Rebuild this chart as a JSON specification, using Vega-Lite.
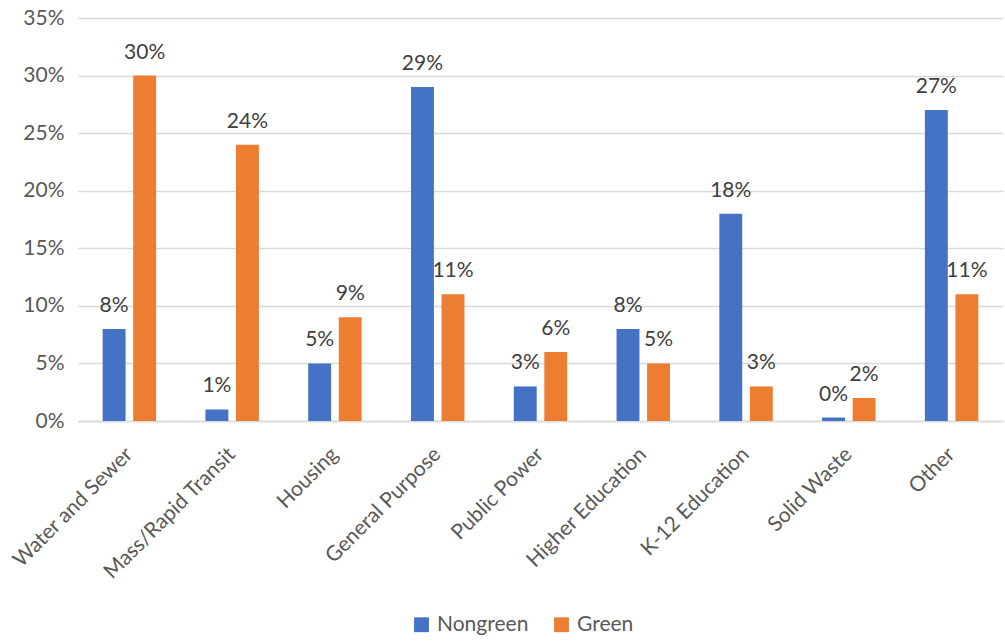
{
  "$schema": "https://vega.github.io/schema/vega-lite/v6.json",
  "autosize": {"type": "none"},
  "width": 925,
  "height": 403,
  "padding": {"left": 78, "top": 18, "right": 2, "bottom": 223},
  "background": "white",
  "config": {
    "view": {"stroke": null},
    "font": "Lato",
    "axis": {"labelFont": "Lato", "labelColor": "#595959", "labelFontSize": 21},
    "legend": {"labelFont": "Lato", "labelColor": "#595959", "labelFontSize": 21}
  },
  "data": {
    "values": [
      {"category": "Water and Sewer", "series": "Nongreen", "value": 0.08},
      {"category": "Water and Sewer", "series": "Green", "value": 0.30},
      {"category": "Mass/Rapid Transit", "series": "Nongreen", "value": 0.01},
      {"category": "Mass/Rapid Transit", "series": "Green", "value": 0.24},
      {"category": "Housing", "series": "Nongreen", "value": 0.05},
      {"category": "Housing", "series": "Green", "value": 0.09},
      {"category": "General Purpose", "series": "Nongreen", "value": 0.29},
      {"category": "General Purpose", "series": "Green", "value": 0.11},
      {"category": "Public Power", "series": "Nongreen", "value": 0.03},
      {"category": "Public Power", "series": "Green", "value": 0.06},
      {"category": "Higher Education", "series": "Nongreen", "value": 0.08},
      {"category": "Higher Education", "series": "Green", "value": 0.05},
      {"category": "K-12 Education", "series": "Nongreen", "value": 0.18},
      {"category": "K-12 Education", "series": "Green", "value": 0.03},
      {"category": "Solid Waste", "series": "Nongreen", "value": 0.003},
      {"category": "Solid Waste", "series": "Green", "value": 0.02},
      {"category": "Other", "series": "Nongreen", "value": 0.27},
      {"category": "Other", "series": "Green", "value": 0.11}
    ]
  },
  "encoding": {
    "x": {
      "field": "category", "type": "nominal", "sort": null,
      "scale": {"paddingInner": 0.48, "paddingOuter": 0.24},
      "axis": {
        "title": null, "labelAngle": -45, "labelAlign": "right", "labelBaseline": "middle",
        "ticks": false, "domainColor": "#d9d9d9", "domainWidth": 1.5, "labelPadding": 30, "grid": false
      }
    },
    "xOffset": {"field": "series", "type": "nominal", "sort": ["Nongreen", "Green"], "scale": {"paddingInner": 0.25, "paddingOuter": 0}},
    "y": {
      "field": "value", "type": "quantitative",
      "scale": {"domain": [0, 0.35], "nice": false},
      "axis": {
        "title": null, "format": ".0%", "values": [0, 0.05, 0.1, 0.15, 0.2, 0.25, 0.3, 0.35],
        "domain": false, "ticks": false, "gridColor": "#d9d9d9", "gridWidth": 1.5, "labelPadding": 14
      }
    }
  },
  "layer": [
    {
      "mark": {"type": "bar"},
      "encoding": {
        "color": {
          "field": "series", "type": "nominal",
          "scale": {"domain": ["Nongreen", "Green"], "range": ["#4472C4", "#ED7D31"]},
          "legend": {
            "title": null, "orient": "none", "direction": "horizontal",
            "legendX": 333, "legendY": 596, "symbolType": "square", "symbolSize": 220,
            "symbolStrokeWidth": 0, "columnPadding": 22, "labelOffset": 5
          }
        }
      }
    },
    {
      "mark": {"type": "text", "baseline": "bottom", "dy": -13, "fontSize": 21, "color": "#404040"},
      "encoding": {
        "text": {"field": "value", "type": "quantitative", "format": ".0%"}
      }
    }
  ]
}
